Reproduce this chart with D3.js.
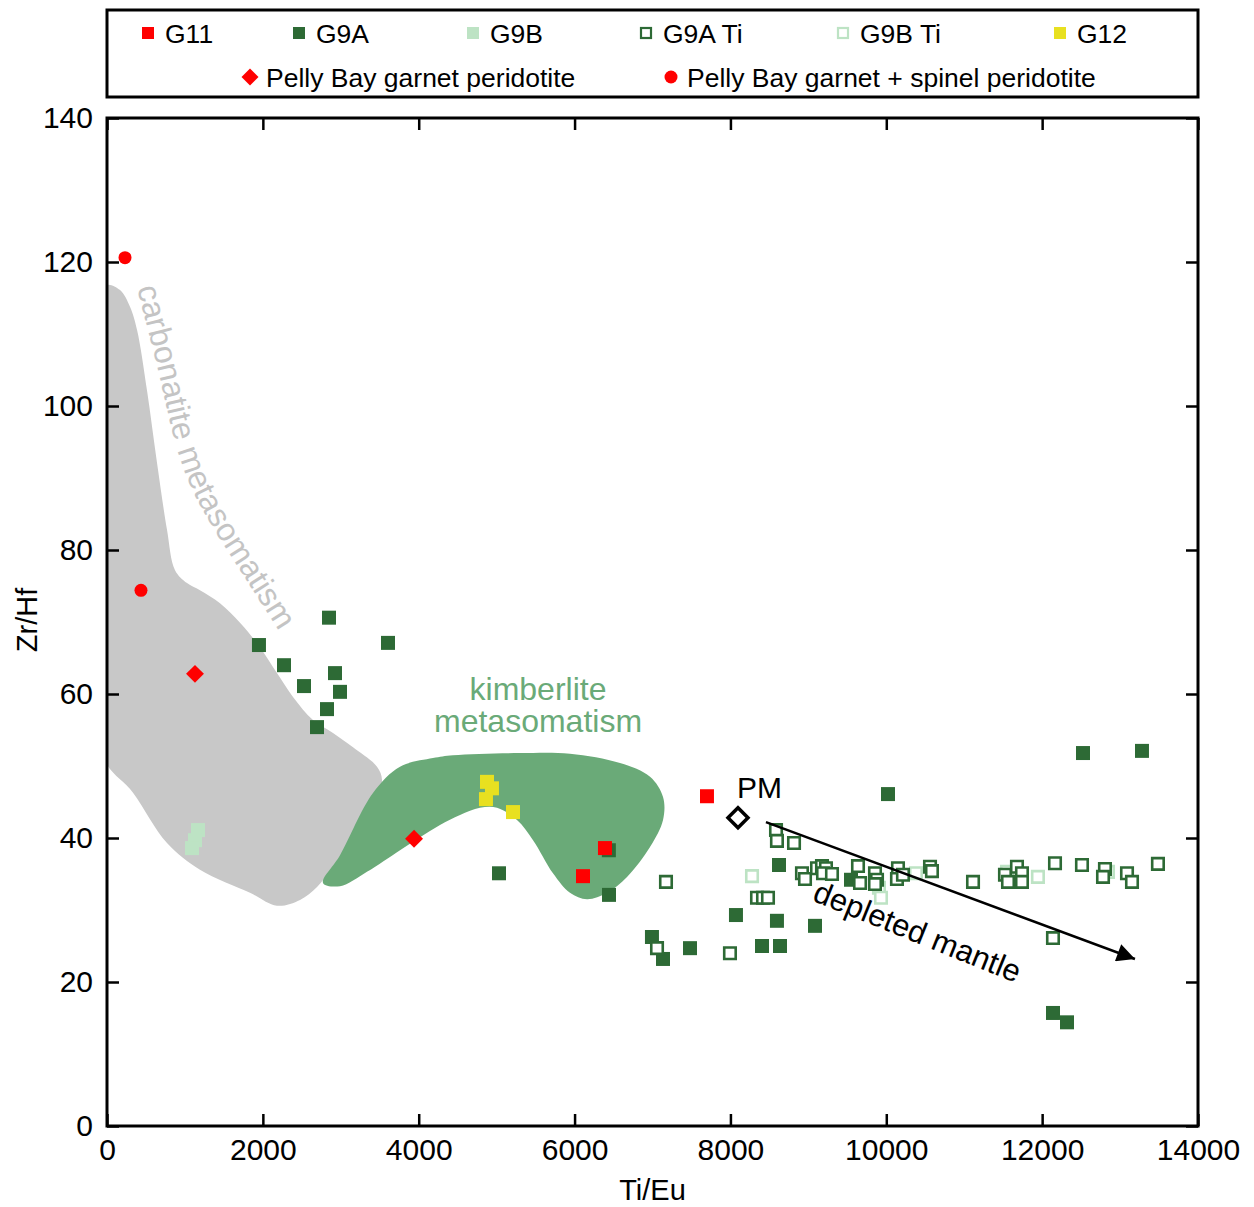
<!DOCTYPE html>
<html>
<head>
<meta charset="utf-8">
<script src="https://cdn.jsdelivr.net/npm/d3@7"></script>
<style>
  html, body { margin: 0; padding: 0; background: #fff; }
  svg { display: block; font-family: "Liberation Sans", Arial, sans-serif; }
</style>
</head>
<body>
<svg id="chart" width="1254" height="1207"></svg>
<script>
// ---- data: [Ti/Eu, Zr/Hf] ----
const g11 = [[7699, 45.8], [6390, 38.6], [6108, 34.7]];
const g9a = [
  [2849, 70.6], [1950, 66.8], [3606, 67.1], [2271, 64.0], [2926, 62.9],
  [2528, 61.1], [2990, 60.3], [2823, 57.9], [2695, 55.4],
  [5030, 35.1], [6442, 32.1], [6440, 38.3], [8623, 36.25], [8071, 29.3],
  [8597, 28.5], [9085, 27.8], [6993, 26.25], [7135, 23.2], [7481, 24.7],
  [8405, 25.0], [8636, 25.0], [9547, 34.2], [10022, 46.1], [12524, 51.8],
  [13281, 52.1], [12139, 15.7], [12319, 14.4]
];
const g9b = [[1168, 41.1], [1129, 39.7], [1091, 38.6]];
const g9aTi = [
  [7173, 33.9], [8585, 41.1], [8597, 39.6], [8816, 39.3], [8918, 35.1],
  [8957, 34.3], [9111, 35.8], [9175, 36.1], [9226, 35.8], [9188, 35.1],
  [9303, 35.0], [9637, 36.1], [9663, 33.75], [9855, 35.1], [9881, 34.2],
  [9855, 33.6], [10150, 35.8], [10137, 34.3], [10214, 34.9], [10561, 36.0],
  [10586, 35.4], [11113, 33.9], [11523, 34.9], [11562, 33.9], [11677, 36.0],
  [11741, 35.1], [11741, 33.9], [12165, 36.5], [12511, 36.25], [12806, 35.7],
  [12781, 34.6], [13089, 35.1], [13153, 33.9], [13486, 36.4], [12139, 26.1],
  [7058, 24.7], [7994, 24.0], [8341, 31.7], [8418, 31.7], [8482, 31.7]
];
const g9bTi = [
  [8277, 34.7], [9906, 33.1], [9932, 31.7], [10381, 35.1], [11549, 35.3],
  [11946, 34.6], [12845, 35.3]
];
const g12 = [[4876, 47.8], [4940, 46.9], [4863, 45.4], [5210, 43.6]];
const pellyGarnet = [[1129, 62.8], [3940, 39.9]];
const pellyGarnetSpinel = [[231, 120.6], [436, 74.4]];
const primitiveMantle = [[8097, 42.8]];

// field outlines
const carbonatiteField = [
  [0, 116.8], [167, 116.1], [295, 113.8], [385, 110.6], [513, 102.2], [642, 92.1],
  [770, 82.8], [873, 77.2], [1027, 75.4], [1193, 74.4], [1450, 72.6], [1707, 69.9],
  [1963, 66.5], [2181, 62.9], [2387, 59.6], [2643, 56.4], [2900, 54.6], [3157, 52.6],
  [3465, 49.9], [3529, 48.1], [3465, 45.3], [3247, 40.7], [2900, 36.0], [2695, 33.2],
  [2477, 31.4], [2181, 30.6], [1835, 32.4], [1193, 35.6], [770, 39.3], [334, 46.3],
  [-60, 51.5], [-120, 85], [-60, 114]
];
const kimberliteField = [
  [2772, 33.75], [2990, 37.6], [3413, 46.25], [3760, 49.9], [4183, 51.1], [4440, 51.5],
  [5300, 51.8], [5941, 51.7], [6583, 50.4], [6968, 48.5], [7135, 45.7], [7135, 42.5],
  [6968, 38.75], [6673, 34.6], [6416, 32.4], [6160, 31.5], [5941, 32.4], [5723, 35.1],
  [5467, 39.7], [5261, 42.5], [5005, 44.2], [4786, 44.2], [4530, 43.2], [4273, 41.8],
  [4017, 40.1], [3760, 38.3], [3336, 35.3], [2990, 33.3]
];
const carbonatiteLabelPath = [[385, 116.4], [654, 105.0], [885, 94.6], [1193, 86.25], [1707, 77.2], [2156, 69.6], [2400, 65.5]];
const depletionArrow = [[8456, 42.2], [13191, 23.2]];

const xTicks = [0, 2000, 4000, 6000, 8000, 10000, 12000, 14000];
const yTicks = [0, 20, 40, 60, 80, 100, 120, 140];

const legendRow1 = [
  { name: "G11", kind: "fill", color: "#ff0000" },
  { name: "G9A", kind: "fill", color: "#2d6a35" },
  { name: "G9B", kind: "fill", color: "#bde3c4" },
  { name: "G9A Ti", kind: "open", color: "#2d6a35" },
  { name: "G9B Ti", kind: "open", color: "#bde3c4" },
  { name: "G12", kind: "fill", color: "#e8e020" }
];
const legendRow2 = [
  { name: "Pelly Bay garnet peridotite", kind: "diamond", color: "#ff0000" },
  { name: "Pelly Bay garnet + spinel peridotite", kind: "circle", color: "#ff0000" }
];

// ---- layout ----
const svg = d3.select("#chart");
const plotLeft = 107, plotRight = 1198, plotTop = 118, plotBottom = 1126;
const x = d3.scaleLinear().domain([0, 14000]).range([plotLeft, plotRight]);
const y = d3.scaleLinear().domain([0, 140]).range([plotBottom, plotTop]);

const defs = svg.append("defs");
defs.append("clipPath").attr("id", "plotClip")
  .append("rect").attr("x", plotLeft).attr("y", plotTop)
  .attr("width", plotRight - plotLeft).attr("height", plotBottom - plotTop);
defs.append("marker").attr("id", "arrowHead")
  .attr("viewBox", "0 0 10 10").attr("refX", 10).attr("refY", 5)
  .attr("markerUnits", "userSpaceOnUse").attr("markerWidth", 28).attr("markerHeight", 18)
  .attr("orient", "auto")
  .append("path").attr("d", "M0,0 L10,5 L0,10 Z").attr("fill", "#000");

const plot = svg.append("g").attr("clip-path", "url(#plotClip)");

// shaded fields
const fieldLine = d3.line().x(d => x(d[0])).y(d => y(d[1])).curve(d3.curveCatmullRomClosed.alpha(0.5));
plot.append("path").attr("d", fieldLine(carbonatiteField)).attr("fill", "#c8c8c8");
plot.append("path").attr("d", fieldLine(kimberliteField)).attr("fill", "#6aaa78");

// field labels
defs.append("path").attr("id", "carbPath")
  .attr("d", d3.line().x(d => x(d[0])).y(d => y(d[1])).curve(d3.curveNatural)(carbonatiteLabelPath));
svg.append("text").attr("font-size", 32).attr("fill", "#c4c4c4")
  .append("textPath").attr("href", "#carbPath").text("carbonatite metasomatism");

const kimb = svg.append("text").attr("font-size", 32).attr("fill", "#6aaa78").attr("text-anchor", "middle");
kimb.append("tspan").attr("x", x(5531)).attr("y", y(59.2)).text("kimberlite");
kimb.append("tspan").attr("x", x(5531)).attr("y", y(54.7)).text("metasomatism");

// markers
const sq = 196, sqOpen = 132;
function squares(data, fill, stroke, size, sw) {
  plot.append("g").selectAll("path").data(data).join("path")
    .attr("transform", d => `translate(${x(d[0])},${y(d[1])})`)
    .attr("d", d3.symbol(d3.symbolSquare, size)())
    .attr("fill", fill).attr("stroke", stroke).attr("stroke-width", sw);
}
squares(g9a, "#2d6a35", "none", sq, 0);
squares(g9bTi, "#ffffff", "#bde3c4", sqOpen, 2.6);
squares(g9aTi, "#ffffff", "#2d6a35", sqOpen, 2.6);
squares(g9b, "#bde3c4", "none", sq, 0);
squares(g11, "#ff0000", "none", sq, 0);
squares(g12, "#e8e020", "none", sq, 0);

plot.append("g").selectAll("path").data(pellyGarnet).join("path")
  .attr("transform", d => `translate(${x(d[0])},${y(d[1])}) rotate(45)`)
  .attr("d", d3.symbol(d3.symbolSquare, 160)())
  .attr("fill", "#ff0000");
plot.append("g").selectAll("circle").data(pellyGarnetSpinel).join("circle")
  .attr("cx", d => x(d[0])).attr("cy", d => y(d[1])).attr("r", 6.5)
  .attr("fill", "#ff0000");

// primitive mantle
plot.append("g").selectAll("path").data(primitiveMantle).join("path")
  .attr("transform", d => `translate(${x(d[0])},${y(d[1])}) rotate(45)`)
  .attr("d", d3.symbol(d3.symbolSquare, 200)())
  .attr("fill", "#ffffff").attr("stroke", "#000").attr("stroke-width", 3.5);
svg.append("text").attr("x", x(primitiveMantle[0][0]) - 1).attr("y", y(primitiveMantle[0][1]) - 20)
  .attr("font-size", 30).attr("fill", "#000").text("PM");

// depletion trend
svg.append("line")
  .attr("x1", x(depletionArrow[0][0])).attr("y1", y(depletionArrow[0][1]))
  .attr("x2", x(depletionArrow[1][0])).attr("y2", y(depletionArrow[1][1]))
  .attr("stroke", "#000").attr("stroke-width", 2.5).attr("marker-end", "url(#arrowHead)");
svg.append("text")
  .attr("transform", `translate(${x(10350)},${y(25.6)}) rotate(22)`)
  .attr("text-anchor", "middle").attr("font-size", 31).attr("fill", "#000")
  .text("depleted mantle");

// axes (ticks inward on all four sides)
const axisFont = 30;
function styleAxis(g) {
  g.select(".domain").remove();
  g.selectAll(".tick line").attr("stroke", "#000").attr("stroke-width", 2.5);
  g.selectAll(".tick text").attr("font-size", axisFont).attr("fill", "#000")
    .attr("font-family", "'Liberation Sans', Arial, sans-serif");
}
svg.append("g").attr("transform", `translate(0,${plotBottom})`)
  .call(d3.axisBottom(x).tickValues(xTicks).tickFormat(d3.format("d")).tickSize(-12).tickPadding(13))
  .call(styleAxis);
svg.append("g").attr("transform", `translate(0,${plotTop})`)
  .call(d3.axisTop(x).tickValues(xTicks).tickFormat("").tickSize(-12))
  .call(styleAxis);
svg.append("g").attr("transform", `translate(${plotLeft},0)`)
  .call(d3.axisLeft(y).tickValues(yTicks).tickSize(-12).tickPadding(14))
  .call(styleAxis);
svg.append("g").attr("transform", `translate(${plotRight},0)`)
  .call(d3.axisRight(y).tickValues(yTicks).tickFormat("").tickSize(-12))
  .call(styleAxis);

svg.append("rect").attr("x", plotLeft).attr("y", plotTop)
  .attr("width", plotRight - plotLeft).attr("height", plotBottom - plotTop)
  .attr("fill", "none").attr("stroke", "#000").attr("stroke-width", 3);

svg.append("text").attr("x", (plotLeft + plotRight) / 2).attr("y", 1200).attr("text-anchor", "middle")
  .attr("font-size", 29).text("Ti/Eu");
svg.append("text").attr("transform", `translate(37,${(plotTop + plotBottom) / 2 - 2}) rotate(-90)`)
  .attr("text-anchor", "middle").attr("font-size", 29).text("Zr/Hf");

// legend
const legend = svg.append("g");
legend.append("rect").attr("x", plotLeft).attr("y", 10).attr("width", plotRight - plotLeft).attr("height", 87)
  .attr("fill", "#fff").attr("stroke", "#000").attr("stroke-width", 3);
const row1X = [148, 299, 473, 646, 843, 1060];
const row2X = [250, 671];
function legendMarker(g, item) {
  if (item.kind === "fill") {
    g.append("rect").attr("x", -6).attr("y", -6).attr("width", 12).attr("height", 12).attr("fill", item.color);
  } else if (item.kind === "open") {
    g.append("rect").attr("x", -5).attr("y", -5).attr("width", 10).attr("height", 10)
      .attr("fill", "#fff").attr("stroke", item.color).attr("stroke-width", 2.2);
  } else if (item.kind === "diamond") {
    g.append("rect").attr("x", -6).attr("y", -6).attr("width", 12).attr("height", 12)
      .attr("transform", "rotate(45)").attr("fill", item.color);
  } else {
    g.append("circle").attr("r", 6.5).attr("fill", item.color);
  }
}
legendRow1.forEach((item, i) => {
  const g = legend.append("g").attr("transform", `translate(${row1X[i]},33)`);
  legendMarker(g, item);
  g.append("text").attr("x", 17).attr("y", 9.5).attr("font-size", 26.5).text(item.name);
});
legendRow2.forEach((item, i) => {
  const g = legend.append("g").attr("transform", `translate(${row2X[i]},77)`);
  legendMarker(g, item);
  g.append("text").attr("x", 16).attr("y", 9.5).attr("font-size", 26.5).text(item.name);
});
</script>
</body>
</html>
